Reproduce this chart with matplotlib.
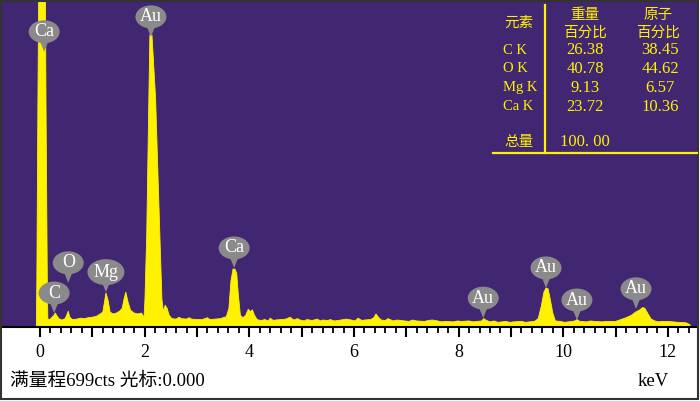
import matplotlib.pyplot as plt
import matplotlib.patches as mpatches
import matplotlib.transforms as mtransforms

# spectrum: energy (keV) and counts
kev = [-0.07, -0.06, -0.04, -0.02, 0.03, 0.10, 0.115, 0.14, 0.15, 0.18, 0.22, 0.26,
       0.29, 0.32, 0.36, 0.42, 0.48, 0.51, 0.54, 0.57, 0.62, 0.70, 0.78, 0.85,
       0.92, 1.00, 1.08, 1.15, 1.20, 1.23, 1.26, 1.30, 1.34, 1.40, 1.46, 1.52,
       1.57, 1.61, 1.64, 1.68, 1.73, 1.80, 1.87, 1.94, 1.987, 2.006, 2.04, 2.08,
       2.10, 2.14, 2.21, 2.29, 2.33, 2.35, 2.37, 2.39, 2.43, 2.47, 2.52, 2.60,
       2.66, 2.70, 2.80, 2.85, 2.90, 3.00, 3.10, 3.20, 3.25, 3.35, 3.45, 3.50,
       3.56, 3.61, 3.65, 3.69, 3.73, 3.76, 3.79, 3.83, 3.88, 3.93, 3.98, 4.02,
       4.06, 4.10, 4.15, 4.22, 4.30, 4.36, 4.40, 4.46, 4.50, 4.60, 4.70, 4.78,
       4.85, 4.92, 4.97, 5.05, 5.10, 5.20, 5.30, 5.36, 5.40, 5.50, 5.55, 5.62,
       5.70, 5.85, 5.95, 6.02, 6.08, 6.15, 6.20, 6.32, 6.38, 6.42, 6.46, 6.52,
       6.60, 6.65, 6.75, 6.82, 6.90, 7.05, 7.12, 7.20, 7.35, 7.42, 7.50, 7.60,
       7.68, 7.75, 7.90, 7.98, 8.05, 8.20, 8.28, 8.35, 8.44, 8.48, 8.52, 8.60,
       8.68, 8.75, 8.90, 8.98, 9.05, 9.20, 9.28, 9.35, 9.45, 9.52, 9.58, 9.63,
       9.67, 9.71, 9.75, 9.80, 9.85, 9.95, 10.02, 10.10, 10.22, 10.26, 10.32, 10.45,
       10.52, 10.60, 10.75, 10.82, 10.90, 11.00, 11.10, 11.20, 11.30, 11.38, 11.45,
       11.52, 11.56, 11.62, 11.68, 11.75, 11.82, 11.90, 12.00, 12.10, 12.20, 12.35,
       12.42, 12.43]
counts = [0, 100, 480, 800, 1500, 800, 480, 100, 18, 15, 20, 24,
          30, 25, 18, 15, 18, 25, 34, 21, 16, 17, 19, 18,
          20, 21, 23, 28, 32, 52, 73, 58, 32, 28, 30, 34,
          40, 62, 75, 55, 36, 30, 28, 30, 20, 60, 200, 490,
          628, 628, 490, 200, 60, 40, 36, 47, 40, 25, 18, 17,
          21, 18, 17, 20, 17, 16, 16, 20, 16, 17, 18, 20,
          22, 40, 100, 125, 124, 115, 70, 25, 20, 25, 38, 33,
          37, 25, 16, 14, 16, 13, 19, 14, 15, 16, 17, 21,
          15, 18, 15, 13, 16, 14, 17, 13, 15, 14, 16, 13,
          14, 17, 15, 13, 19, 14, 15, 16, 20, 28, 22, 15,
          14, 18, 13, 15, 14, 12, 15, 13, 12, 14, 15, 13,
          11, 12, 11, 13, 12, 13, 11, 12, 13, 18, 15, 11,
          13, 10, 12, 10, 11, 12, 10, 11, 12, 18, 45, 75,
          84, 82, 60, 30, 13, 12, 10, 11, 13, 16, 12, 11,
          13, 12, 11, 12, 12, 12, 16, 20, 25, 32, 36,
          42, 40, 28, 17, 13, 11, 12, 12, 11, 10, 9,
          5, 0]

# peak labels: text, tip energy, tip counts
peak_names = ['Ca', 'C', 'O', 'Mg', 'Au', 'Ca', 'Au', 'Au', 'Au', 'Au']
peak_kev = [0.08, 0.27, 0.54, 1.26, 2.12, 3.71, 8.47, 9.67, 10.26, 11.39]
peak_cts = [592, 30, 95, 75, 624, 127, 19, 84, 15, 39]

# quantification table
elements = ['C K', 'O K', 'Mg K', 'Ca K']
weight_pct = ['26.38', '40.78', '9.13', '23.72']
atomic_pct = ['38.45', '44.62', '6.57', '10.36']
total = '100. 00'

full_scale = 699

PURPLE = '#412672'
YELLOW = '#fff200'
GRAY = '#8a8a8a'
SERIF = ['Liberation Serif', 'Noto Sans CJK SC']
CJK = ['Noto Sans CJK SC', 'Liberation Serif']

W, H = 700, 401
fig = plt.figure(figsize=(W / 100, H / 100), dpi=100)
fig.patch.set_facecolor('white')


def fx(px):
    return px / W


def fy(py):
    return 1 - py / H


ax = fig.add_axes([fx(2), fy(327), fx(697) - fx(2), fy(2) - fy(327)])
ax.set_facecolor(PURPLE)
ax.set_xlim(-0.726, 12.555)
ax.set_ylim(0, full_scale)

ax.fill_between(kev, counts, 0, color=YELLOW, lw=0.6, ec=YELLOW, zorder=2)

for s in ['top', 'right', 'left']:
    ax.spines[s].set_visible(False)
ax.spines['bottom'].set_linewidth(1.5)
ax.set_yticks([])
ax.xaxis.set_ticks(list(range(0, 13)))
ax.set_xticklabels([str(t) if t % 2 == 0 else '' for t in range(0, 13)],
                   family=SERIF, fontsize=13)
ax.xaxis.set_ticks([t * 0.2 for t in range(0, 63) if t % 5 != 0], minor=True)
ax.tick_params(axis='x', which='major', direction='out', length=7, width=1.5, pad=5)
ax.tick_params(axis='x', which='minor', direction='out', length=4, width=1.3)

# balloon labels, drawn in pixel units around each tip
for name, k, c in zip(peak_names, peak_kev, peak_cts):
    tx, ty = ax.transData.transform((k, c))
    tf = mtransforms.Affine2D().translate(tx, ty)
    w = 37 if name == 'Mg' else 31
    h = 26 if name == 'Mg' else 23
    ell = mpatches.Ellipse((0, 20), w, h, transform=tf, fc=GRAY, ec='none', zorder=5)
    tri = mpatches.Polygon([(-4, 10), (4, 10), (0, 0)], closed=True, transform=tf,
                           fc=GRAY, ec='none', zorder=5)
    fig.patches.extend([ell, tri])
    fig.text(tx / W, (ty + 20) / H, name, color='white', family=SERIF, fontsize=13,
             ha='center', va='center', zorder=6)

# table
fig.add_artist(plt.Line2D([fx(545), fx(545)], [fy(5), fy(153)], color=YELLOW, lw=1.6))
fig.add_artist(plt.Line2D([fx(493), fx(697)], [fy(153), fy(153)], color=YELLOW, lw=1.6))
ckw = dict(color=YELLOW, va='center', fontsize=10.5, family=CJK)
nkw = dict(color=YELLOW, va='center', fontsize=12, family=SERIF)
fig.text(fx(504), fy(23), '元素', ha='left', **ckw)
fig.text(fx(585), fy(15), '重量', ha='center', **ckw)
fig.text(fx(585), fy(33), '百分比', ha='center', **ckw)
fig.text(fx(658), fy(15), '原子', ha='center', **ckw)
fig.text(fx(658), fy(33), '百分比', ha='center', **ckw)
for i, (e, wp, ap) in enumerate(zip(elements, weight_pct, atomic_pct)):
    y = fy(50 + i * 19)
    fig.text(fx(503), y, e, ha='left', color=YELLOW, va='center', fontsize=10.5,
             family=SERIF)
    fig.text(fx(585), y, wp, ha='center', **nkw)
    fig.text(fx(660), y, ap, ha='center', **nkw)
fig.text(fx(504), fy(142), '总量', ha='left', **ckw)
fig.text(fx(560), fy(142), total, ha='left', **nkw)

# footer
fig.text(fx(10), fy(381), '满量程699cts 光标:0.000', family=SERIF, fontsize=13.5,
         ha='left', va='center')
fig.text(fx(638), fy(381), 'keV', family=SERIF, fontsize=13.5, ha='left', va='center')

fig.add_artist(mpatches.Rectangle((fx(1), fy(399)), fx(697), fy(1) - fy(399),
                                  fill=False, ec='#333333', lw=1.5))

fig.savefig('out.png', dpi=100)
